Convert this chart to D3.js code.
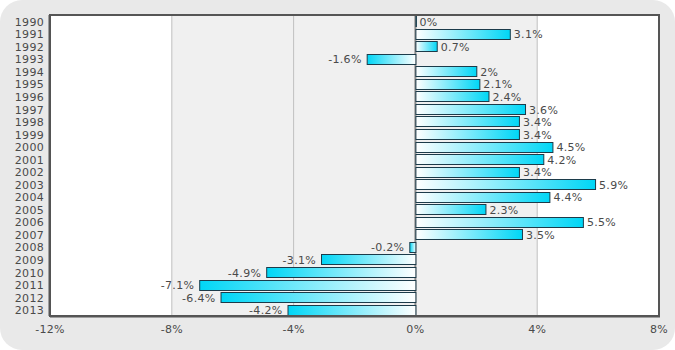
<!DOCTYPE html>
<html>
<head>
<meta charset="utf-8">
<script src="https://cdn.jsdelivr.net/npm/d3@7"></script>
<style>
  body { margin: 0; background: #fff; }
  text { font-family: "DejaVu Sans", Verdana, sans-serif; font-size: 11px; fill: #4a4a4a; letter-spacing: 0.3px; }
</style>
</head>
<body>
<svg id="chart"></svg>
<script>
// growth by year, percent
const years = ['1990','1991','1992','1993','1994','1995','1996','1997','1998','1999','2000','2001',
  '2002','2003','2004','2005','2006','2007','2008','2009','2010','2011','2012','2013'];
const growth = [0, 3.1, 0.7, -1.6, 2, 2.1, 2.4, 3.6, 3.4, 3.4, 4.5, 4.2,
  3.4, 5.9, 4.4, 2.3, 5.5, 3.5, -0.2, -3.1, -4.9, -7.1, -6.4, -4.2];
const xTicks = [-12, -8, -4, 0, 4, 8];

const width = 675, height = 350;
const margin = {top: 15, right: 16, bottom: 34, left: 50};

const svg = d3.select('#chart').attr('width', width).attr('height', height);

// rounded panel background
svg.append('rect')
    .attr('x', 0).attr('y', 0)
    .attr('width', width).attr('height', height)
    .attr('rx', 22).attr('fill', '#e9e9e9');

const defs = svg.append('defs');
const gPos = defs.append('linearGradient').attr('id', 'gradPos');
gPos.append('stop').attr('offset', '0%').attr('stop-color', '#ffffff');
gPos.append('stop').attr('offset', '100%').attr('stop-color', '#00d6f6');
const gNeg = defs.append('linearGradient').attr('id', 'gradNeg');
gNeg.append('stop').attr('offset', '0%').attr('stop-color', '#00d6f6');
gNeg.append('stop').attr('offset', '100%').attr('stop-color', '#ffffff');

const x = d3.scaleLinear().domain([-12, 8]).range([margin.left, width - margin.right]);
const y = d3.scaleBand().domain(years).range([margin.top, height - margin.bottom]).paddingInner(0.18).paddingOuter(0.09);

// plot area
svg.append('rect')
    .attr('x', x(-12)).attr('y', margin.top)
    .attr('width', x(8) - x(-12)).attr('height', height - margin.bottom - margin.top)
    .attr('fill', '#fff');
svg.append('rect')
    .attr('x', x(-8)).attr('y', margin.top)
    .attr('width', x(4) - x(-8)).attr('height', height - margin.bottom - margin.top)
    .attr('fill', '#f0f0f0');

// grid lines
svg.selectAll('.grid')
    .data(xTicks.filter(d => d !== -12 && d !== 8 && d !== 0))
    .enter().append('line')
    .attr('x1', d => x(d)).attr('x2', d => x(d))
    .attr('y1', margin.top).attr('y2', height - margin.bottom)
    .attr('stroke', '#c0c0c0').attr('stroke-width', 1);

svg.append('line')
    .attr('x1', x(0)).attr('x2', x(0))
    .attr('y1', margin.top).attr('y2', height - margin.bottom)
    .attr('stroke', '#8a8a8a').attr('stroke-width', 2);

// bars
svg.selectAll('.bar')
    .data(growth)
    .enter().append('rect')
    .attr('x', d => x(Math.min(0, d)) + 0.5)
    .attr('y', (d, i) => Math.round(y(years[i])) + 0.5)
    .attr('width', d => Math.max(0.5, Math.abs(x(d) - x(0))))
    .attr('height', Math.round(y.bandwidth()))
    .attr('fill', d => d < 0 ? 'url(#gradNeg)' : 'url(#gradPos)')
    .attr('stroke', '#1c3b4a').attr('stroke-width', 1);

// value labels
svg.selectAll('.val')
    .data(growth)
    .enter().append('text')
    .attr('x', d => d < 0 ? x(d) - 5 : x(d) + 4)
    .attr('y', (d, i) => y(years[i]) + y.bandwidth() / 2 + 0.5)
    .attr('dy', '0.36em')
    .attr('text-anchor', d => d < 0 ? 'end' : 'start')
    .text(d => d + '%');

// year labels
svg.selectAll('.yr')
    .data(years)
    .enter().append('text')
    .attr('x', margin.left - 6)
    .attr('y', d => y(d) + y.bandwidth() / 2 + 0.5)
    .attr('dy', '0.36em')
    .attr('text-anchor', 'end')
    .text(d => d);

// x tick labels
svg.selectAll('.xt')
    .data(xTicks)
    .enter().append('text')
    .attr('x', d => x(d))
    .attr('y', height - margin.bottom + 17)
    .attr('text-anchor', 'middle')
    .text(d => d + '%');

// frame
const pb = height - margin.bottom;
svg.append('rect')
    .attr('x', x(-12)).attr('y', margin.top)
    .attr('width', x(8) - x(-12)).attr('height', pb - margin.top)
    .attr('fill', 'none').attr('stroke', '#555').attr('stroke-width', 2);
svg.append('line')
    .attr('x1', x(-12)).attr('x2', x(8) + 1)
    .attr('y1', pb + 0.5).attr('y2', pb + 0.5)
    .attr('stroke', '#555').attr('stroke-width', 2);
svg.append('line')
    .attr('x1', x(-12) - 0.5).attr('x2', x(-12) - 0.5)
    .attr('y1', margin.top).attr('y2', pb)
    .attr('stroke', '#555').attr('stroke-width', 2);
</script>
</body>
</html>
